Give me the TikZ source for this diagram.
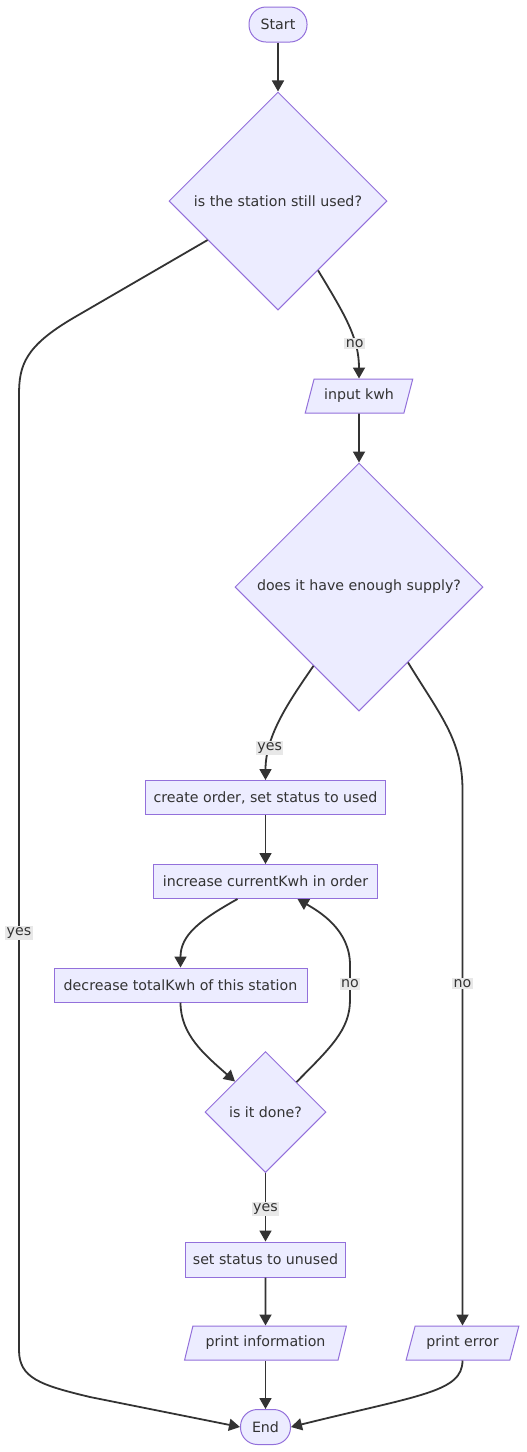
\documentclass[tikz,border=0pt]{standalone}
\usepackage{fontspec}
\setmainfont{DejaVu Sans}
\usetikzlibrary{shapes.geometric,arrows.meta}
\definecolor{nodefill}{HTML}{ECECFF}
\definecolor{nodeline}{HTML}{9370DB}
\definecolor{edgecol}{HTML}{333333}
\definecolor{lblbg}{HTML}{E8E8E8}
\tikzset{
  base/.style={draw=nodeline, fill=nodefill, line width=1pt, text=edgecol, inner sep=0pt},
  proc/.style={base, rectangle, minimum height=34pt},
  term/.style={base, rectangle, rounded corners=17pt, minimum height=35pt},
  decision/.style={base, diamond, aspect=1},
  io/.style={base, trapezium, trapezium left angle=63.4, trapezium right angle=116.6,
             trapezium stretches=true, minimum height=34pt},
  edge/.style={draw=edgecol, line width=1.8pt, -{Triangle[length=11pt,width=12pt]}},
  lbl/.style={fill=lblbg, inner sep=1.5pt, text=edgecol}
}
\begin{document}
\begin{tikzpicture}[x=1pt,y=-1pt,font=\fontsize{14.2}{17}\selectfont]
\useasboundingbox (0,0) rectangle (527,1452);
\fill[white] (0,0) rectangle (527,1452);

\node[term, minimum width=58pt] (start) at (278,24.5) {Start};
\node[decision, minimum width=218pt, minimum height=218pt] (d1) at (278,201) {is the station still used?};
\node[io, minimum width=108pt] (inp) at (359,396) {input kwh};
\node[decision, minimum width=248pt, minimum height=248pt] (d2) at (359,587) {does it have enough supply?};
\node[proc, minimum width=240pt] (create) at (265.5,797.5) {create order, set status to used};
\node[proc, minimum width=224pt] (inc) at (265.5,881.5) {increase currentKwh in order};
\node[proc, minimum width=253pt] (decr) at (180.5,985) {decrease totalKwh of this station};
\node[decision, minimum width=121pt, minimum height=121pt] (done) at (265.5,1112) {is it done?};
\node[proc, minimum width=160pt, minimum height=35pt] (unused) at (265.5,1259.5) {set status to unused};
\node[io, minimum width=162pt] (pinfo) at (265.5,1343) {print information};
\node[io, minimum width=113pt] (perr) at (462.5,1343) {print error};
\node[term, minimum width=50pt] (end) at (265.5,1427) {End};

\draw[edge] (start) -- (d1);
\draw[edge] (d1.-60) .. controls (345,315) and (359,338) .. node[lbl,pos=0.68]{no} (inp);
\draw[edge] (d1.-151) -- (75,317) .. controls (25,346) and (19,365) .. (19,395)
   -- node[lbl,pos=0.563]{yes} (19,1350) .. controls (19,1378) and (40,1385) .. (90,1397) -- (end.west);
\draw[edge] (inp) -- (d2);
\draw[edge] (d2.-120) .. controls (290,700) and (265.5,735) .. node[lbl,pos=0.75]{yes} (create);
\draw[edge] (d2.-57) .. controls (440,715) and (462.5,740) .. (462.5,790)
   -- node[lbl,pos=0.362]{no} (perr);
\draw[edge] (create) -- (inc);
\draw[edge] ([xshift=-28pt]inc.south) .. controls (200,920) and (180.5,935) .. (decr);
\draw[edge] (decr) .. controls (180.5,1035) and (205,1055) .. (done.135);
\draw[edge] (done.44) .. controls (330,1048) and (350,1030) .. (350,1000)
   -- node[lbl,pos=0.457]{no} (350,965) .. controls (350,930) and (320,912) .. ([xshift=32pt]inc.south);
\draw[edge] (done) -- node[lbl,pos=0.52]{yes} (unused);
\draw[edge] (unused) -- (pinfo);
\draw[edge] (pinfo) -- (end);
\draw[edge] (perr) .. controls (462.5,1392) and (420,1395) .. (end.east);
\end{tikzpicture}
\end{document}
